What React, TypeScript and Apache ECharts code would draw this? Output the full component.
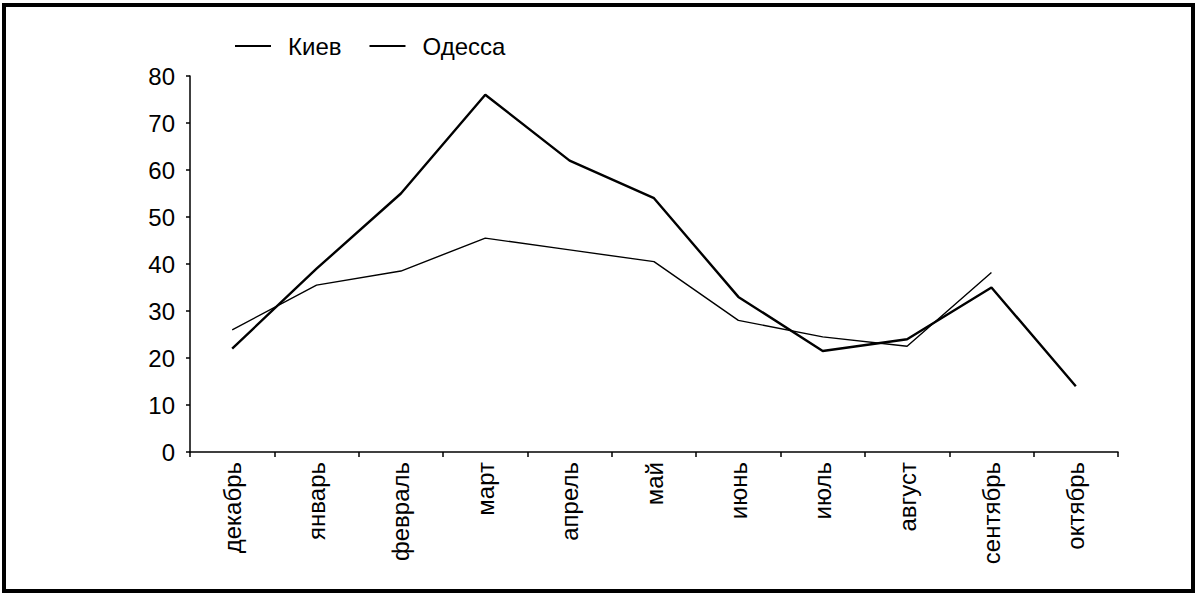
import React, { useEffect, useRef } from "react";
import * as echarts from "echarts";

const months = ["декабрь", "январь", "февраль", "март", "апрель", "май", "июнь", "июль", "август", "сентябрь", "октябрь"];
const kiev = [22, 39, 55, 76, 62, 54, 33, 21.5, 24, 35, 14];
const odessa: (number | null)[] = [26, 35.5, 38.5, 45.5, 43, 40.5, 28, 24.5, 22.5, 38.2, null];
const yTicks = { min: 0, max: 80, interval: 10 };

const FONT = "Arial, 'Liberation Sans', sans-serif";

export default function App() {
  const ref = useRef<HTMLDivElement>(null);
  useEffect(() => {
    document.body.style.margin = "0";
    const chart = echarts.init(ref.current!, undefined, { renderer: "svg" });
    chart.setOption({
      animation: false,
      backgroundColor: "#fff",
      textStyle: { fontFamily: FONT, color: "#000" },
      legend: {
        left: 230,
        top: 29,
        itemWidth: 36,
        itemHeight: 14,
        itemGap: 28,
        textStyle: { fontSize: 24, color: "#000", fontFamily: FONT, padding: [0, 0, 0, 12] },
        data: [
          { name: "Киев", icon: "path://M0,0 L36,0 L36,2 L0,2 Z" },
          { name: "Одесса", icon: "path://M0,0 L36,0 L36,2 L0,2 Z" },
        ],
        itemStyle: { color: "#000" },
      },
      grid: { left: 190, right: 79, top: 76, bottom: 142, containLabel: false },
      xAxis: {
        type: "category",
        data: months,
        boundaryGap: true,
        axisLine: { lineStyle: { color: "#000", width: 1.5 } },
        axisTick: { show: true, length: 5, lineStyle: { color: "#000", width: 1.5 } },
        axisLabel: { rotate: 90, fontSize: 24, color: "#000", fontFamily: FONT, margin: 10, interval: 0 },
        splitLine: { show: false },
      },
      yAxis: {
        type: "value",
        min: yTicks.min,
        max: yTicks.max,
        interval: yTicks.interval,
        axisLine: { show: true, lineStyle: { color: "#000", width: 1.5 } },
        axisTick: { show: true, length: 4, lineStyle: { color: "#000", width: 1.5 } },
        axisLabel: { fontSize: 24, color: "#000", fontFamily: FONT, margin: 15 },
        splitLine: { show: false },
      },
      series: [
        {
          name: "Киев",
          type: "line",
          data: kiev,
          symbol: "none",
          lineStyle: { color: "#000", width: 2.4 },
          itemStyle: { color: "#000" },
        },
        {
          name: "Одесса",
          type: "line",
          data: odessa,
          symbol: "none",
          connectNulls: false,
          lineStyle: { color: "#000", width: 1.4 },
          itemStyle: { color: "#000" },
        },
      ],
      graphic: [
        {
          type: "rect",
          shape: { x: 4, y: 5, width: 1189, height: 586 },
          style: { fill: "none", stroke: "#000", lineWidth: 4 },
          silent: true,
        },
      ],
    });
    return () => chart.dispose();
  }, []);
  return <div ref={ref} style={{ width: 1197, height: 594 }} />;
}
